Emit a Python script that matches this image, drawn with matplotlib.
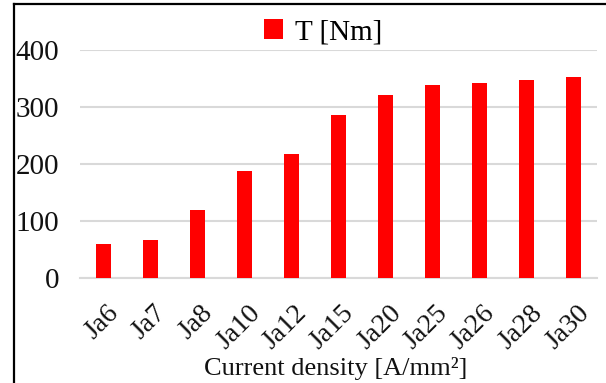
import matplotlib
matplotlib.use("Agg")
import matplotlib.pyplot as plt
from matplotlib.lines import Line2D
from matplotlib.transforms import ScaledTranslation

# ---------------- Data ----------------
categories = ["Ja6", "Ja7", "Ja8", "Ja10", "Ja12", "Ja15",
              "Ja20", "Ja25", "Ja26", "Ja28", "Ja30"]
torque = [60, 67, 119, 188, 217, 286, 321, 338, 342, 348, 352]
series_label = "T [Nm]"
x_label = "Current density [A/mm²]"
y_ticks = [0, 100, 200, 300, 400]

plt.rcParams["font.family"] = ["Liberation Serif", "DejaVu Serif"]
fs = 21

fig = plt.figure(figsize=(6.06, 3.83), dpi=100)
ax = fig.add_axes([80 / 606, 1 - 278 / 383, 517 / 606, 228 / 383])

x = range(len(categories))
ax.bar(x, torque, width=0.33, color="#ff0000", label=series_label, zorder=3)

ax.set_xlim(-0.5, len(categories) - 0.5)
ax.set_ylim(0, 400)
ax.set_yticks(y_ticks)
ax.yaxis.grid(True, color="#d9d9d9", linewidth=1.5, zorder=0)
ax.set_axisbelow(True)

for side in ["top", "right", "left"]:
    ax.spines[side].set_visible(False)
ax.spines["bottom"].set_color("#d9d9d9")
ax.spines["bottom"].set_linewidth(1.5)

ax.tick_params(axis="y", length=0, pad=15, labelsize=fs, labelcolor="#111111")
ax.tick_params(axis="x", length=0, pad=16, labelsize=20, labelcolor="#111111")
ax.set_xticks(list(x))
ax.set_xticklabels(categories, rotation=45, ha="right", rotation_mode="anchor")
shift = ScaledTranslation(3 / 100, 0, fig.dpi_scale_trans)
for lab in ax.get_xticklabels():
    lab.set_transform(lab.get_transform() + shift)

ax.set_xlabel(x_label, fontsize=19, color="#111111")
ax.xaxis.set_label_coords(0.5 - 3 / 517, -(357 - 278) / 228)

ax.legend(loc="upper center", bbox_to_anchor=(0.47, 1.25), frameon=False,
          fontsize=fs, handlelength=0.65, handleheight=0.65, handletextpad=0.4)

# frame lines of the chart area (left and top visible)
fig.add_artist(Line2D([14 / 606, 14 / 606], [0, 1 - 4 / 383], color="black",
                      linewidth=1.6, transform=fig.transFigure))
fig.add_artist(Line2D([14 / 606, 1], [1 - 4 / 383, 1 - 4 / 383], color="black",
                      linewidth=1.6, transform=fig.transFigure))

fig.savefig("out.png", dpi=100)
